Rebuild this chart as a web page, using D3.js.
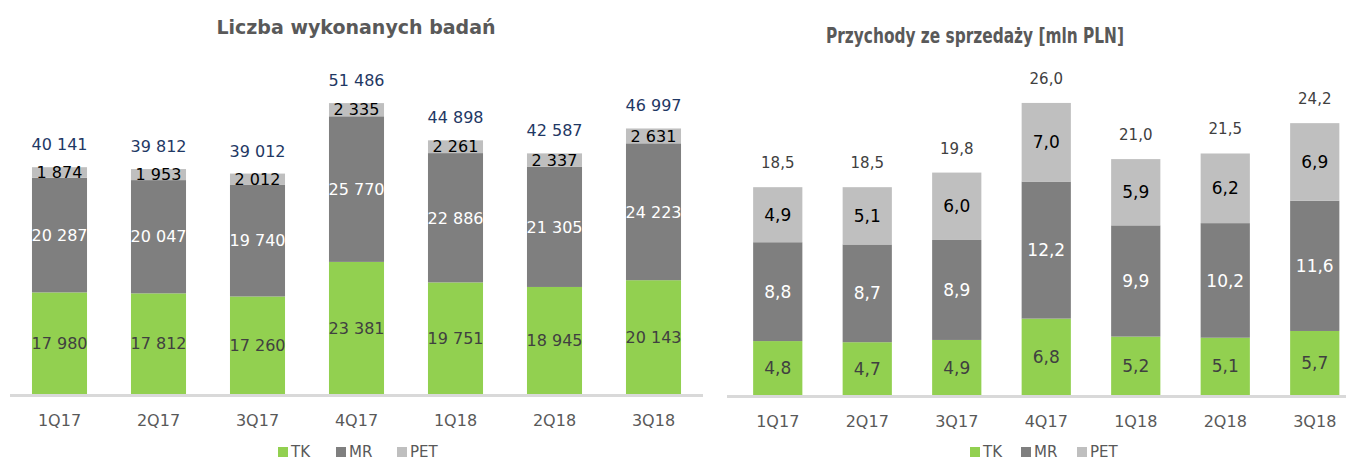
<!DOCTYPE html>
<html>
<head>
<meta charset="utf-8">
<script src="https://cdn.jsdelivr.net/npm/d3@7"></script>
<style>
    html, body { margin: 0; padding: 0; background: #fff; }
    svg { display: block; font-family: 'DejaVu Sans', Verdana, sans-serif; }
</style>
</head>
<body>
<svg id="chart" width="1346" height="461"></svg>
<script>
const quarters = ['1Q17', '2Q17', '3Q17', '4Q17', '1Q18', '2Q18', '3Q18']
const seriesNames = ['TK', 'MR', 'PET']

// Liczba wykonanych badan
const testsTK = [17980, 17812, 17260, 23381, 19751, 18945, 20143]
const testsMR = [20287, 20047, 19740, 25770, 22886, 21305, 24223]
const testsPET = [1874, 1953, 2012, 2335, 2261, 2337, 2631]
const testsTotal = [40141, 39812, 39012, 51486, 44898, 42587, 46997]

// Przychody ze sprzedazy [mln PLN]
const revenueTK = [4.8, 4.7, 4.9, 6.8, 5.2, 5.1, 5.7]
const revenueMR = [8.8, 8.7, 8.9, 12.2, 9.9, 10.2, 11.6]
const revenuePET = [4.9, 5.1, 6.0, 7.0, 5.9, 6.2, 6.9]
const revenueTotal = [18.5, 18.5, 19.8, 26.0, 21.0, 21.5, 24.2]

const colors = { TK: '#92D050', MR: '#7F7F7F', PET: '#BFBFBF' }
const innerText = { TK: '#404040', MR: '#ffffff', PET: '#000000' }

const pl = d3.formatLocale({ decimal: ',', thousands: ' ', grouping: [3], currency: ['', ' zł'] })
const fmtInt = pl.format(',d')
const fmtDec = pl.format('.1f')

const svg = d3.select('#chart')

function drawChart(opts) {
    const g = svg.append('g')
    const rows = quarters.map((q, i) => ({
        q: q,
        TK: opts.tk[i],
        MR: opts.mr[i],
        PET: opts.pet[i],
        total: opts.total[i]
    }))

    const x = d3.scaleBand()
        .domain(quarters)
        .range(opts.band)
        .paddingInner(opts.pad)
        .paddingOuter(opts.pad / 2)
    const y = d3.scaleLinear()
        .domain(opts.yDomain)
        .range([opts.base, opts.yTop])

    const stacked = d3.stack().keys(seriesNames)(rows)

    // title
    const title = g.append('text')
        .attr('x', opts.titleX)
        .attr('y', opts.titleY)
        .attr('text-anchor', 'middle')
        .style('font-size', opts.titleSize + 'px')
        .style('font-weight', 'bold')
        .style('fill', '#595959')
        .text(opts.title)
    if (opts.titleWidth) {
        title.attr('textLength', opts.titleWidth).attr('lengthAdjust', 'spacingAndGlyphs')
    }

    // bars
    stacked.forEach(layer => {
        g.selectAll('.bar-' + layer.key)
            .data(layer)
            .enter().append('rect')
            .attr('x', d => x(d.data.q))
            .attr('width', x.bandwidth())
            .attr('y', d => y(d[1]))
            .attr('height', d => y(d[0]) - y(d[1]))
            .style('fill', colors[layer.key])

        g.selectAll('.lbl-' + layer.key)
            .data(layer)
            .enter().append('text')
            .attr('x', d => x(d.data.q) + x.bandwidth() / 2)
            .attr('y', d => (y(d[0]) + y(d[1])) / 2)
            .attr('dy', '0.36em')
            .attr('text-anchor', 'middle')
            .style('font-size', opts.innerSize + 'px')
            .style('fill', innerText[layer.key])
            .text(d => opts.fmt(d.data[layer.key]))
    })

    // totals
    g.selectAll('.total')
        .data(rows)
        .enter().append('text')
        .attr('x', d => x(d.q) + x.bandwidth() / 2)
        .attr('y', d => y(d.total) - opts.totalGap)
        .attr('text-anchor', 'middle')
        .style('font-size', opts.totalSize + 'px')
        .style('fill', opts.totalColor)
        .text(d => opts.fmt(d.total))

    // axis line
    g.append('line')
        .attr('x1', opts.axisX[0])
        .attr('x2', opts.axisX[1])
        .attr('y1', opts.base + 1.5)
        .attr('y2', opts.base + 1.5)
        .attr('stroke', '#D9D9D9')
        .attr('stroke-width', 3)

    // category labels
    const axis = g.append('g')
        .attr('transform', 'translate(0,' + opts.base + ')')
        .call(d3.axisBottom(x).tickSize(0).tickPadding(0))
    axis.select('.domain').remove()
    axis.selectAll('text')
        .attr('y', 32)
        .attr('dy', 0)
        .style('font-size', '16px')
        .style('font-family', "'DejaVu Sans', Verdana, sans-serif")
        .style('fill', '#595959')

    // legend
    const legend = g.append('g')
        .attr('transform', 'translate(' + opts.legendX + ',' + opts.legendY + ')')
    seriesNames.forEach((name, i) => {
        const item = legend.append('g')
            .attr('transform', 'translate(' + opts.legendStep[i] + ',0)')
        item.append('rect')
            .attr('x', 0)
            .attr('y', -5)
            .attr('width', 10)
            .attr('height', 10)
            .style('fill', colors[name])
        item.append('text')
            .attr('x', 13)
            .attr('y', 0)
            .attr('dy', '0.36em')
            .style('font-size', '15px')
            .style('fill', '#595959')
            .text(name)
    })
}

drawChart({
    title: 'Liczba wykonanych badań',
    titleX: 356, titleY: 34, titleSize: 19,
    tk: testsTK, mr: testsMR, pet: testsPET, total: testsTotal,
    band: [10, 703], pad: 0.444,
    yDomain: [0, 60000], base: 394, yTop: 55,
    fmt: fmtInt,
    innerSize: 16, totalSize: 16, totalGap: 17, totalColor: '#1F3864',
    axisX: [10, 703],
    legendX: 278, legendY: 452, legendStep: [0, 58, 119]
})

drawChart({
    title: 'Przychody ze sprzedaży [mln PLN]',
    titleX: 975, titleY: 43, titleSize: 21, titleWidth: 298,
    tk: revenueTK, mr: revenueMR, pet: revenuePET, total: revenueTotal,
    band: [733, 1359.5], pad: 0.45,
    yDomain: [0, 30], base: 395, yTop: 58,
    fmt: fmtDec,
    innerSize: 17, totalSize: 15, totalGap: 19, totalColor: '#404040',
    axisX: [727, 1346],
    legendX: 970, legendY: 452, legendStep: [0, 51, 107]
})
</script>
</body>
</html>
